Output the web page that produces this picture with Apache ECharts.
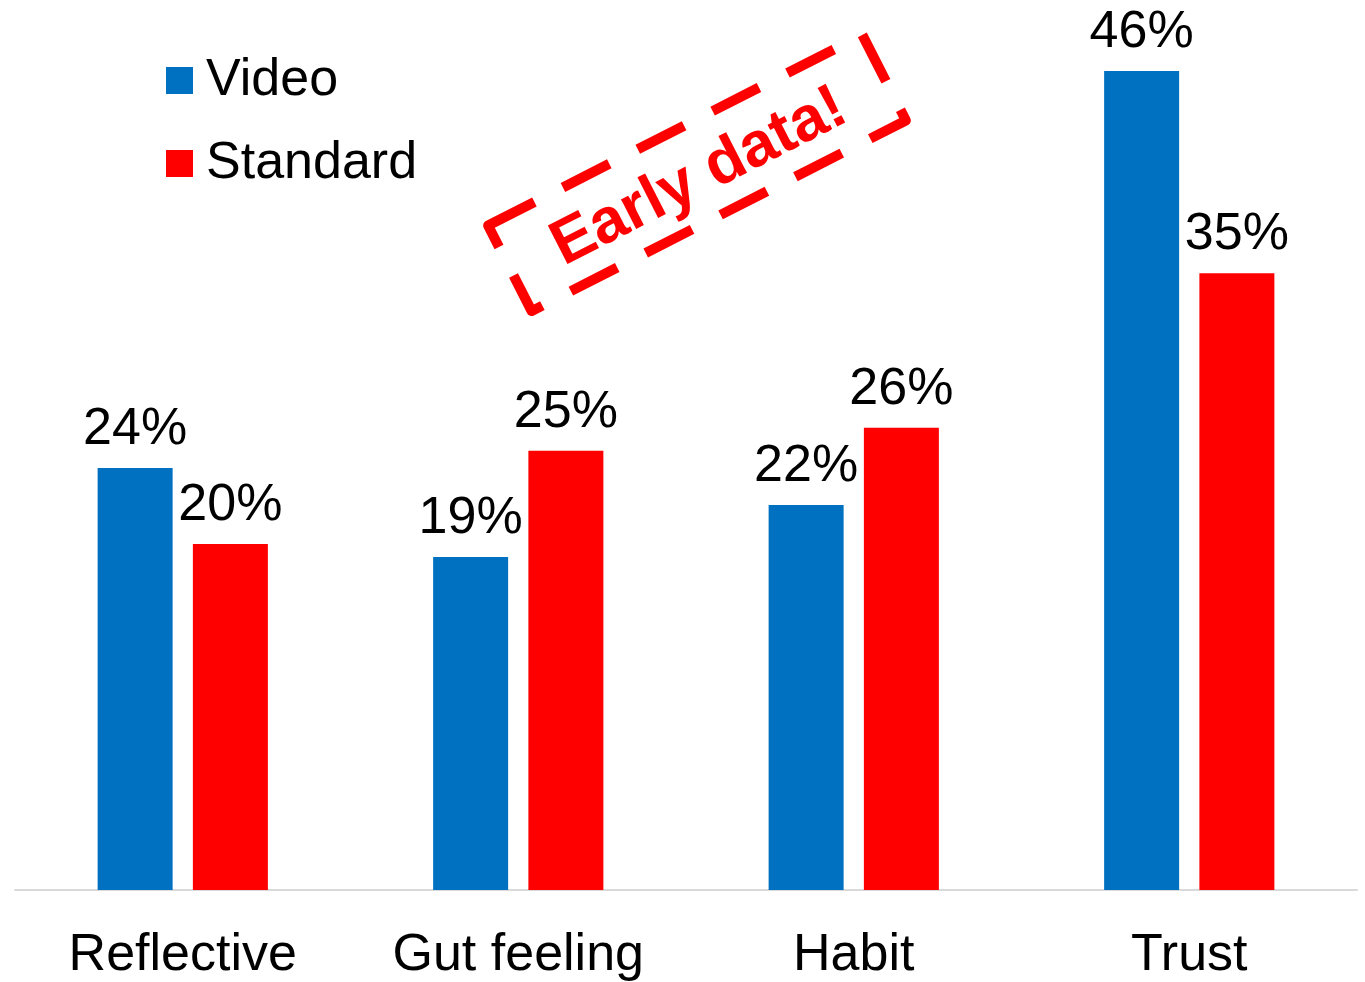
<!DOCTYPE html>
<html>
<head>
<meta charset="utf-8">
<script src="https://cdn.jsdelivr.net/npm/echarts@6/dist/echarts.min.js"></script>
<style>
html,body{margin:0;padding:0;background:#fff;}
#chart{width:1365px;height:982px;}
</style>
</head>
<body>
<div id="chart"></div>
<script>
const categories = ['Reflective', 'Gut feeling', 'Habit', 'Trust'];
const seriesNames = ['Video', 'Standard'];
const videoValues = [23.85, 18.82, 21.76, 46.3];
const standardValues = [19.56, 24.83, 26.13, 34.87];
const stampText = 'Early data!';

const FONT = '"Liberation Sans", Arial, sans-serif';
const chart = echarts.init(document.getElementById('chart'), null, {renderer: 'canvas'});

const labelCfg = {
  show: true,
  position: 'top',
  distance: 12,
  color: '#000',
  fontFamily: FONT,
  fontSize: 52,
  lineHeight: 52,
  formatter: p => Math.round(p.value) + '%'
};

chart.setOption({
  animation: false,
  backgroundColor: '#fff',
  grid: {left: 15, right: 8, top: 5.5, bottom: 90, containLabel: false},
  legend: {
    orient: 'vertical',
    left: 161,
    top: 48,
    itemWidth: 27,
    itemHeight: 27,
    itemGap: 28,
    icon: 'rect',
    textStyle: {fontFamily: FONT, fontSize: 52, lineHeight: 52, color: '#000', padding: [3, 0, 0, 8]},
    data: seriesNames
  },
  xAxis: {
    type: 'category',
    data: categories,
    axisLine: {show: true, lineStyle: {color: '#d9d9d9', width: 2}},
    axisTick: {show: false},
    axisLabel: {fontFamily: FONT, fontSize: 52, lineHeight: 52, color: '#000', margin: 40, interval: 0}
  },
  yAxis: {
    type: 'value',
    min: 0,
    max: 50,
    show: false,
    splitLine: {show: false}
  },
  series: [
    {
      name: seriesNames[0],
      type: 'bar',
      data: videoValues,
      barWidth: 75,
      barGap: '27%',
      itemStyle: {color: '#0070C0'},
      label: labelCfg
    },
    {
      name: seriesNames[1],
      type: 'bar',
      data: standardValues,
      barWidth: 75,
      barGap: '27%',
      itemStyle: {color: '#FF0000'},
      label: labelCfg
    }
  ],
  graphic: [
    {
      type: 'group',
      x: 697,
      y: 173,
      rotation: 27 * Math.PI / 180,
      children: [
        {
          type: 'rect',
          shape: {x: -210, y: -48, width: 420, height: 96},
          style: {fill: 'none', stroke: '#FF0000', lineWidth: 10, lineDash: [52, 32], lineJoin: 'round'}
        },
        {
          type: 'text',
          x: 0,
          y: 5,
          style: {
            text: stampText,
            align: 'center',
            verticalAlign: 'middle',
            font: 'bold 63px "Liberation Sans", Arial, sans-serif',
            fill: '#FF0000'
          }
        }
      ]
    }
  ]
});
</script>
</body>
</html>
